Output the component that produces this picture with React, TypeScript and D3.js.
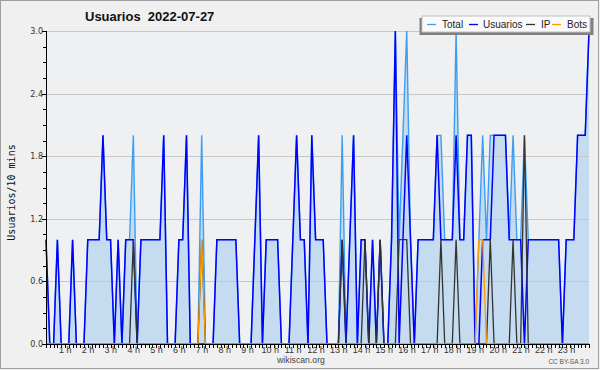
import React from "react";
import * as d3 from "d3";

const W = 600;
const H = 370;
const title = "Usuarios  2022-07-27";
const yTitle = "Usuarios/10 mins";
const seriesNames = ["Total", "Usuarios", "IP", "Bots"];
const seriesColors = ["#3c9ef0", "#0000ff", "#333333", "#ff9900"];
const yTickValues = [0, 0.6, 1.2, 1.8, 2.4, 3.0];
const yTickLabels = ["0.0", "0.6", "1.2", "1.8", "2.4", "3.0"];
const hourLabels = [
  "1 h", "2 h", "3 h", "4 h", "5 h", "6 h", "7 h", "8 h", "9 h", "10 h", "11 h", "12 h",
  "13 h", "14 h", "15 h", "16 h", "17 h", "18 h", "19 h", "20 h", "21 h", "22 h", "23 h",
];

const total = [
  1, 0, 0, 1, 0, 0, 0, 1, 0, 0,
  0, 1, 1, 1, 1, 2, 1, 1, 0, 1,
  0, 1, 1, 2, 0, 1, 1, 1, 1, 1,
  1, 2, 0, 0, 0, 1, 1, 2, 0, 0,
  0, 2, 0, 0, 0, 1, 1, 1, 1, 1,
  1, 0, 0, 0, 0, 1, 2, 0, 1, 1,
  1, 1, 0, 0, 0, 1, 2, 1, 1, 0,
  2, 1, 1, 1, 0, 0, 0, 0, 2, 0,
  1, 2, 0, 1, 1, 0, 1, 0, 1, 0,
  0, 1, 3, 1, 2, 3, 1, 0, 1, 1,
  1, 1, 1, 2, 2, 1, 1, 1, 3, 1,
  1, 2, 2, 0, 1, 2, 1, 2, 2, 2,
  2, 2, 1, 2, 1, 1, 2, 1, 1, 1,
  1, 1, 1, 1, 1, 1, 0, 1, 1, 1,
  2, 2, 2, 3,
];

const usuarios = [
  1, 0, 0, 1, 0, 0, 0, 1, 0, 0,
  0, 1, 1, 1, 1, 2, 1, 1, 0, 1,
  0, 1, 1, 1, 0, 1, 1, 1, 1, 1,
  1, 2, 0, 0, 0, 1, 1, 2, 0, 0,
  0, 0, 0, 0, 0, 1, 1, 1, 1, 1,
  1, 0, 0, 0, 0, 1, 2, 0, 1, 1,
  1, 1, 0, 0, 0, 1, 2, 1, 1, 0,
  2, 1, 1, 1, 0, 0, 0, 0, 1, 0,
  1, 2, 0, 1, 1, 0, 1, 0, 1, 0,
  0, 1, 3, 0, 1, 2, 1, 0, 1, 1,
  1, 1, 1, 2, 1, 1, 1, 1, 2, 1,
  1, 2, 2, 0, 0, 1, 1, 1, 2, 2,
  2, 2, 1, 1, 1, 1, 0, 1, 1, 1,
  1, 1, 1, 1, 1, 1, 0, 1, 1, 1,
  2, 2, 2, 3,
];

const ip = [
  0, 0, 0, 0, 0, 0, 0, 0, 0, 0,
  0, 0, 0, 0, 0, 0, 0, 0, 0, 0,
  0, 0, 0, 1, 0, 0, 0, 0, 0, 0,
  0, 0, 0, 0, 0, 0, 0, 0, 0, 0,
  0, 1, 0, 0, 0, 0, 0, 0, 0, 0,
  0, 0, 0, 0, 0, 0, 0, 0, 0, 0,
  0, 0, 0, 0, 0, 0, 0, 0, 0, 0,
  0, 0, 0, 0, 0, 0, 0, 0, 1, 0,
  0, 0, 0, 0, 1, 0, 0, 0, 1, 0,
  0, 0, 0, 1, 1, 1, 0, 0, 0, 0,
  0, 0, 0, 0, 1, 0, 0, 0, 1, 0,
  0, 0, 0, 0, 0, 0, 0, 1, 0, 0,
  0, 0, 0, 1, 0, 0, 2, 0, 0, 0,
  0, 0, 0, 0, 0, 0, 0, 0, 0, 0,
  0, 0, 0, 0,
];

const bots = [
  0, 0, 0, 0, 0, 0, 0, 0, 0, 0,
  0, 0, 0, 0, 0, 0, 0, 0, 0, 0,
  0, 0, 0, 0, 0, 0, 0, 0, 0, 0,
  0, 0, 0, 0, 0, 0, 0, 0, 0, 0,
  0, 1, 0, 0, 0, 0, 0, 0, 0, 0,
  0, 0, 0, 0, 0, 0, 0, 0, 0, 0,
  0, 0, 0, 0, 0, 0, 0, 0, 0, 0,
  0, 0, 0, 0, 0, 0, 0, 0, 0, 0,
  0, 0, 0, 0, 0, 0, 0, 0, 0, 0,
  0, 0, 0, 0, 0, 0, 0, 0, 0, 0,
  0, 0, 0, 0, 0, 0, 0, 0, 0, 0,
  0, 0, 0, 0, 1, 1, 0, 0, 0, 0,
  0, 0, 0, 0, 0, 0, 0, 0, 0, 0,
  0, 0, 0, 0, 0, 0, 0, 0, 0, 0,
  0, 0, 0, 0,
];

const SANS = "'Liberation Sans', Arial, sans-serif";

export default function App() {
  const left = 46, right = 589, top = 31, bottom = 344;
  const x = d3.scaleLinear().domain([0, total.length - 1]).range([left, right]);
  const y = d3.scaleLinear().domain([0, 3]).range([bottom, top]);

  const lineGen = d3.line<number>().x((_, i) => x(i)).y((d) => y(d));
  const areaGen = d3.area<number>().x((_, i) => x(i)).y0(y(0)).y1((d) => y(d));

  const series = [total, usuarios, ip, bots];
  const widths = [1.4, 1.5, 1.3, 1.3];
  const minorY = d3.range(0, 21).map((k) => k * 0.15);
  const minorX = d3.range(0, total.length);

  const legItems = [
    { lx: 427, tx: 442 },
    { lx: 469, tx: 483 },
    { lx: 526, tx: 541 },
    { lx: 552, tx: 567 },
  ];

  return (
    <svg
      width={W}
      height={H}
      viewBox={`0 0 ${W} ${H}`}
      style={{ position: "absolute", left: 0, top: 0, display: "block" }}
    >
      <rect x={0} y={0} width={W} height={H} fill="#f0f0f0" />
      <rect x={0.5} y={0.5} width={598} height={368} fill="none" stroke="#a0a0a0" strokeWidth={1} />
      <rect x={left} y={top} width={right - left} height={bottom - top} fill="#eef0f2" />

      <path d={areaGen(total) || ""} fill="#c5dcf0" />

      {yTickValues.slice(1).map((v) => (
        <line key={"g" + v} x1={left} x2={right} y1={Math.round(y(v)) + 0.5} y2={Math.round(y(v)) + 0.5} stroke="#c8c8c8" strokeWidth={1} />
      ))}

      {series.map((s, k) => (
        <path
          key={"s" + k}
          d={lineGen(s) || ""}
          fill="none"
          stroke={seriesColors[k]}
          strokeWidth={widths[k]}
          strokeLinejoin="miter"
        />
      ))}

      <line x1={left + 0.5} x2={left + 0.5} y1={top} y2={bottom + 1} stroke="#000" strokeWidth={1} />
      <line x1={left} x2={right + 1} y1={bottom + 0.5} y2={bottom + 0.5} stroke="#000" strokeWidth={1} />

      {minorY.map((v, k) => {
        const yy = Math.round(y(v)) + 0.5;
        const major = k % 4 === 0;
        return <line key={"yt" + k} x1={left - (major ? 4 : 3)} x2={left} y1={yy} y2={yy} stroke="#000" strokeWidth={1} />;
      })}
      {yTickValues.map((v, k) => (
        <text key={"yl" + k} x={43} y={y(v) + 3} textAnchor="end" fontFamily="'DejaVu Sans', sans-serif" fontSize={8} fill="#333">
          {yTickLabels[k]}
        </text>
      ))}

      {minorX.map((i) => {
        const xx = Math.round(x(i)) + 0.5;
        return <line key={"xt" + i} x1={xx} x2={xx} y1={bottom} y2={bottom + 4} stroke="#000" strokeWidth={1} />;
      })}
      {hourLabels.map((lab, k) => (
        <text key={"xl" + k} x={x((k + 1) * 6) - 3.5} y={353} textAnchor="middle" fontFamily={SANS} fontSize={9} fill="#333">
          {lab}
        </text>
      ))}

      <text x={10} y={188} transform="rotate(-90 14.5 188)" textAnchor="middle" fontFamily="'DejaVu Sans Mono', monospace" fontSize={10} fill="#111">
        {yTitle}
      </text>

      <text x={85} y={21} fontFamily={SANS} fontWeight="bold" fontSize={13} fill="#111" xmlSpace="preserve" style={{ whiteSpace: "pre" }}>
        {title}
      </text>

      <text x={301} y={363} textAnchor="middle" fontFamily={SANS} fontSize={8.7} fill="#444">wikiscan.org</text>
      <text x={589} y={364} textAnchor="end" fontFamily={SANS} fontSize={6.5} fill="#555">CC BY-SA 3.0</text>

      <rect x={419.5} y={18} width={174} height={17} fill="#808080" />
      <rect x={422} y={16} width={168} height={16} fill="#fafafa" stroke="#c0c0c0" strokeWidth={1} />
      {seriesNames.map((n, k) => (
        <g key={"lg" + k}>
          <line x1={legItems[k].lx} x2={legItems[k].lx + 9} y1={24.5} y2={24.5} stroke={seriesColors[k]} strokeWidth={1.3} />
          <text x={legItems[k].tx} y={28} fontFamily={SANS} fontSize={10} fill="#222">{n}</text>
        </g>
      ))}
    </svg>
  );
}
